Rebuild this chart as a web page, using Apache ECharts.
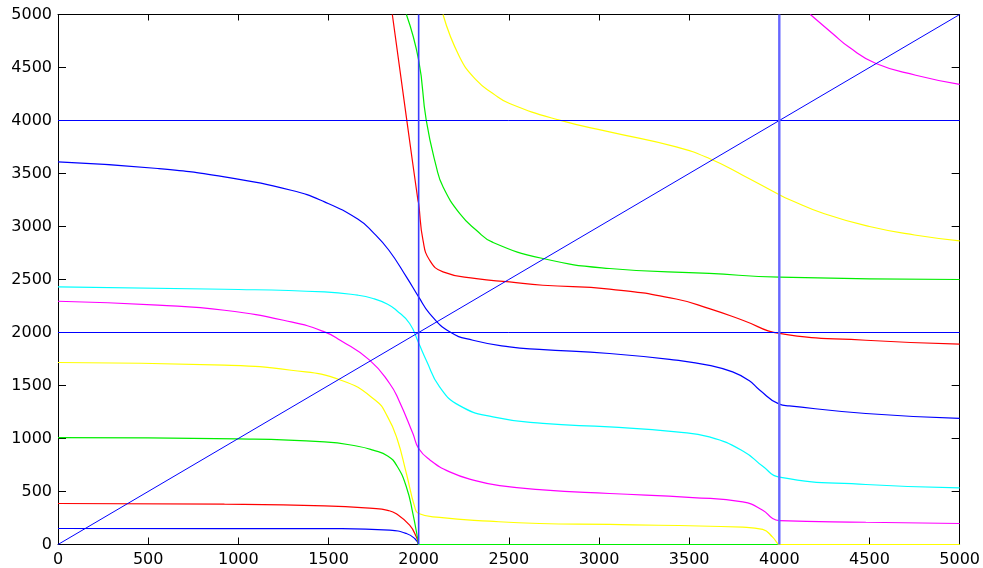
<!DOCTYPE html>
<html>
<head>
<meta charset="utf-8">
<script src="https://cdn.jsdelivr.net/npm/echarts@6/dist/echarts.min.js"></script>
<style>html,body{margin:0;padding:0;background:#fff;}#chart{width:983px;height:568px;}</style>
</head>
<body>
<div id="chart"></div>
<script>
var xTicks = [0,500,1000,1500,2000,2500,3000,3500,4000,4500,5000];
var yTicks = [0,500,1000,1500,2000,2500,3000,3500,4000,4500,5000];

var blueLow = [[0,151],[900,150],[1562,149],[1839,135],[1932,104],[1978,57],[2000,0]];
var redLow = [[0,387],[923,380],[1478,364],[1747,340],[1828,322],[1876,290],[1950,182],[1987,72],[2000,0]];
var greenLow = [[0,1009],[997,996],[1478,968],[1662,927],[1747,890],[1828,836],[1880,740],[1932,543],[1968,292],[1996,40],[2000,0],[3000,0],[4000,0],[5000,0]];
var yellowLow = [[0,1717],[923,1692],[1293,1644],[1570,1550],[1760,1361],[1828,1204],[1880,1000],[1932,670],[1978,355],[2000,292],[2116,255],[2393,220],[2670,198],[3058,189],[3797,163],[3908,142],[3963,69],[3991,9],[4000,0],[5000,0]];
var magentaLow = [[0,2295],[554,2258],[923,2210],[1293,2100],[1478,2006],[1565,1927],[1728,1739],[1839,1519],[1890,1361],[1968,1047],[2000,906],[2061,800],[2172,685],[2320,600],[2450,555],[2689,515],[3058,481],[3520,443],[3797,402],[3908,324],[3963,245],[4000,225],[4480,210],[5000,198]];
var cyanLow = [[0,2430],[923,2408],[1478,2383],[1662,2352],[1747,2321],[1828,2267],[1876,2210],[1950,2085],[2000,1900],[2042,1739],[2116,1487],[2227,1310],[2412,1204],[2689,1142],[3058,1109],[3428,1062],[3612,1015],[3800,880],[3910,735],[4000,635],[4480,566],[5000,534]];
var blueUp = [[0,3609],[554,3547],[923,3468],[1293,3342],[1478,3232],[1662,3070],[1747,2945],[1835,2776],[1932,2525],[2000,2336],[2061,2179],[2172,2006],[2301,1927],[2504,1864],[2670,1840],[3058,1802],[3428,1739],[3612,1690],[3741,1628],[3834,1545],[3889,1460],[4000,1324],[4055,1308],[4480,1236],[5000,1189]];
var redUp = [[1854,5000],[1932,4030],[1996,3248],[2000,3217],[2024,2871],[2061,2682],[2135,2572],[2320,2509],[2504,2477],[2689,2446],[3058,2410],[3428,2316],[3612,2225],[3797,2116],[4000,1991],[4480,1927],[5000,1890]];
var greenUp = [[1932,5000],[2000,4569],[2042,4003],[2098,3562],[2135,3374],[2227,3123],[2320,2965],[2412,2850],[2689,2698],[3058,2604],[3612,2557],[4000,2522],[5000,2500]];
var yellowUp = [[2135,5000],[2227,4600],[2320,4380],[2412,4255],[2504,4160],[2781,4003],[3058,3893],[3428,3751],[3612,3641],[3797,3484],[4000,3300],[4055,3255],[4250,3120],[4500,3000],[4750,2920],[5000,2865]];
var magentaUp = [[4172,5000],[4295,4821],[4388,4690],[4536,4538],[4757,4427],[5000,4340]];
var diagonal = [[0,0],[5000,5000]];
var hLine2000 = [[0,2000],[5000,2000]];
var hLine4000 = [[0,4000],[5000,4000]];
var vLine2000 = [[2000,0],[2000,5000]];
var vLine4000 = [[4000,0],[4000,5000]];

var BLUE='#0000ff', RED='#ff0000', GREEN='#00ee00', YELLOW='#ffff00', MAGENTA='#ff00ff', CYAN='#00ffff';

function curve(data, color) {
  return {type:'line', data:data, showSymbol:false, symbol:'none', smooth:0.5,
    lineStyle:{color:color, width:1.2}, itemStyle:{color:color}, animation:false, silent:true, clip:true};
}
function straight(data, color, width) {
  return {type:'line', data:data, showSymbol:false, symbol:'none', lineStyle:{color:color, width:width},
    itemStyle:{color:color}, animation:false, silent:true, clip:true};
}

var labelFont = {fontSize:16, color:'#000', fontFamily:'DejaVu Sans'};
var chart = echarts.init(document.getElementById('chart'), null, {renderer:'canvas'});
chart.setOption({
  backgroundColor:'#fff',
  animation:false,
  grid:{left:58, right:23, top:14.5, bottom:23.5, containLabel:false},
  xAxis:[
    {type:'value', min:0, max:5000, interval:500, position:'bottom',
     axisLine:{show:true, onZero:false, lineStyle:{color:'#000', width:1}},
     axisTick:{show:true, inside:true, length:7, lineStyle:{color:'#000'}},
     axisLabel:Object.assign({margin:7, showMaxLabel:true, showMinLabel:true, formatter:function(v){return xTicks.indexOf(v)>=0?String(v):'';}}, labelFont),
     splitLine:{show:false}},
    {type:'value', min:0, max:5000, interval:500, position:'top',
     axisLine:{show:true, onZero:false, lineStyle:{color:'#000', width:1}},
     axisTick:{show:true, inside:true, length:6, lineStyle:{color:'#000'}},
     axisLabel:{show:false}, splitLine:{show:false}}
  ],
  yAxis:[
    {type:'value', min:0, max:5000, interval:500, position:'left',
     axisLine:{show:true, onZero:false, lineStyle:{color:'#000', width:1}},
     axisTick:{show:true, inside:true, length:8, lineStyle:{color:'#000'}},
     axisLabel:Object.assign({margin:6, showMaxLabel:true, showMinLabel:true, formatter:function(v){return yTicks.indexOf(v)>=0?String(v):'';}}, labelFont),
     splitLine:{show:false}},
    {type:'value', min:0, max:5000, interval:500, position:'right',
     axisLine:{show:true, onZero:false, lineStyle:{color:'#000', width:1}},
     axisTick:{show:true, inside:true, length:8, lineStyle:{color:'#000'}},
     axisLabel:{show:false}, splitLine:{show:false}}
  ],
  series:[
    curve(blueLow, BLUE),
    curve(redLow, RED),
    curve(greenLow, GREEN),
    curve(yellowLow, YELLOW),
    curve(magentaLow, MAGENTA),
    curve(cyanLow, CYAN),
    curve(blueUp, BLUE),
    curve(redUp, RED),
    curve(greenUp, GREEN),
    curve(yellowUp, YELLOW),
    curve(magentaUp, MAGENTA),
    straight(diagonal, BLUE, 1),
    straight(hLine2000, BLUE, 1),
    straight(hLine4000, BLUE, 1),
    straight(vLine2000, '#3a3aff', 1.6),
    straight(vLine4000, '#6666ff', 2.4)
  ]
});
</script>
</body>
</html>
